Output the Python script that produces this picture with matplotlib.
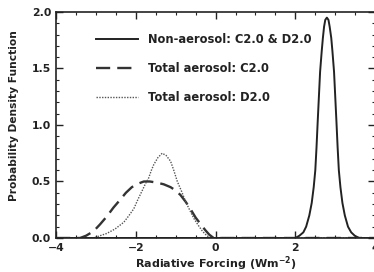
import matplotlib
matplotlib.use("Agg")
import matplotlib.pyplot as plt
from matplotlib.ticker import MultipleLocator

# values
non_aer_x = [-4.0, 2.0, 2.10, 2.20, 2.27, 2.35, 2.41, 2.46, 2.50, 2.53, 2.56, 2.59, 2.62, 2.66, 2.69, 2.72, 2.75, 2.79,
             2.83, 2.86, 2.90, 2.93, 2.97, 3.00, 3.03, 3.06, 3.09, 3.13, 3.18, 3.24, 3.32, 3.40, 3.49, 3.6, 4.0]
non_aer_y = [0.0, 0.0, 0.02, 0.05, 0.10, 0.20, 0.31, 0.45, 0.60, 0.80, 1.03, 1.25, 1.47, 1.65, 1.77, 1.87, 1.93, 1.95,
             1.93, 1.87, 1.77, 1.65, 1.47, 1.25, 1.03, 0.80, 0.60, 0.45, 0.31, 0.20, 0.10, 0.05, 0.02, 0.0, 0.0]

tot_c_x = [-4.0, -3.4, -3.25, -3.06, -2.9, -2.73, -2.56, -2.39, -2.25, -2.10, -1.95, -1.80, -1.65, -1.47, -1.30, -1.13,
           -1.0, -0.88, -0.75, -0.62, -0.50, -0.37, -0.26, -0.16, -0.05, 4.0]
tot_c_y = [0.0, 0.0, 0.02, 0.06, 0.12, 0.19, 0.27, 0.34, 0.40, 0.45, 0.48, 0.50, 0.50, 0.49, 0.475, 0.45,
           0.42, 0.38, 0.32, 0.25, 0.18, 0.12, 0.07, 0.03, 0.0, 0.0]

tot_d_x = [-4.0, -3.06, -2.9, -2.73, -2.52, -2.30, -2.17, -2.05, -1.95, -1.84, -1.76, -1.68, -1.61, -1.55, -1.45, -1.34,
           -1.24, -1.13, -1.05, -0.96, -0.85, -0.75, -0.64, -0.54, -0.43, -0.33, -0.22, -0.12, 4.0]
tot_d_y = [0.0, 0.0, 0.02, 0.04, 0.08, 0.14, 0.20, 0.26, 0.34, 0.42, 0.48, 0.53, 0.60, 0.65, 0.71, 0.75,
           0.73, 0.68, 0.60, 0.50, 0.41, 0.32, 0.24, 0.17, 0.11, 0.06, 0.02, 0.0, 0.0]

labels = ["Non-aerosol: C2.0 & D2.0", "Total aerosol: C2.0", "Total aerosol: D2.0"]

plt.rcParams['font.family'] = 'DejaVu Sans'
plt.rcParams['font.weight'] = 'bold'
ink = '#222222'

fig = plt.figure(figsize=(3.74, 2.72), dpi=100)
ax = fig.add_axes([0.150, 0.125, 0.853, 0.831])

ax.plot(non_aer_x, non_aer_y, color=ink, lw=1.4, ls='-', label=labels[0])
ax.plot(tot_c_x, tot_c_y, color='#333333', lw=1.7, ls=(0, (6, 3)), label=labels[1])
ax.plot(tot_d_x, tot_d_y, color='#555555', lw=1.0, ls=(0, (1, 1)), label=labels[2])

ax.set_xlim(-4, 4)
ax.set_ylim(0, 2.0)
ax.xaxis.set_major_locator(MultipleLocator(2))
ax.xaxis.set_minor_locator(MultipleLocator(0.5))
ax.yaxis.set_major_locator(MultipleLocator(0.5))
ax.yaxis.set_minor_locator(MultipleLocator(0.1))
ax.set_yticks([0, 0.5, 1.0, 1.5, 2.0])
ax.set_yticklabels(["0.0", "0.5", "1.0", "1.5", "2.0"])
ax.tick_params(which='both', direction='in', top=True, right=True, labelsize=7.8, colors=ink)
ax.tick_params(which='major', length=5, width=1.0)
ax.tick_params(which='minor', length=2.5, width=0.8)
for s in ax.spines.values():
    s.set_linewidth(1.2)
    s.set_color(ink)

ax.set_xlabel("Radiative Forcing (Wm$^{-2}$)", fontsize=8, fontweight='bold', labelpad=1, color=ink)
ax.set_ylabel("Probability Density Function", fontsize=7.7, fontweight='bold', color=ink)
ax.yaxis.set_label_coords(-0.115, 0.54)

ax.legend(loc='upper left', bbox_to_anchor=(0.092, 0.954), frameon=False,
          prop={'size': 8.3, 'weight': 'bold'},
          handlelength=3.65, handletextpad=0.87, labelspacing=1.42, labelcolor=ink)

fig.savefig("out.png", dpi=100)
